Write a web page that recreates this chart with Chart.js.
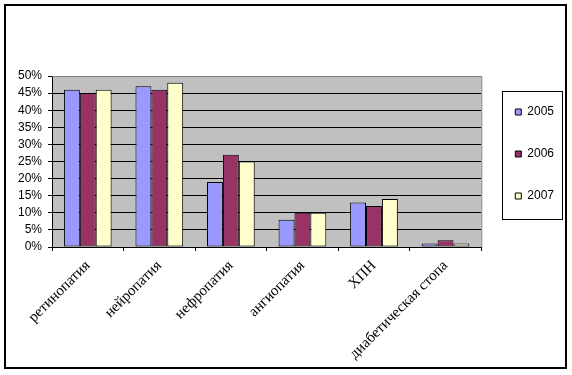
<!DOCTYPE html>
<html>
<head>
<meta charset="utf-8">
<script src="https://cdn.jsdelivr.net/npm/chart.js@4/dist/chart.umd.min.js"></script>
<style>
  body { margin: 0; background: #fff; }
</style>
</head>
<body>
<canvas id="bar" width="572" height="375"></canvas>
<script>
// categories and values
const categories = ["ретинопатия", "нейропатия", "нефропатия", "ангиопатия", "ХПН", "диабетическая стопа"];
const years = ["2005", "2006", "2007"];
const values2005 = [46, 47, 19, 8, 13, 1];
const values2006 = [45, 46, 27, 10, 12, 2];
const values2007 = [46, 48, 25, 10, 14, 1];
const yMax = 50;
const yStep = 5;

const colors = ["#9999FF", "#993366", "#FFFFCC"];

// gray plot area, gray top/right edges, outer frame, legend frame
const framePlugin = {
    id: "frames",
    beforeDraw(chart) {
        const ctx = chart.ctx;
        const a = chart.chartArea;
        ctx.save();
        ctx.fillStyle = "#fff";
        ctx.fillRect(0, 0, chart.width, chart.height);
        ctx.fillStyle = "#C0C0C0";
        ctx.fillRect(a.left, a.top, a.right - a.left, a.bottom - a.top);
        ctx.restore();
    },
    afterDraw(chart) {
        const ctx = chart.ctx;
        const a = chart.chartArea;
        ctx.save();
        ctx.strokeStyle = "#808080";
        ctx.lineWidth = 1;
        ctx.beginPath();
        ctx.moveTo(a.left, a.top + 0.5);
        ctx.lineTo(a.right + 0.5, a.top + 0.5);
        ctx.lineTo(a.right + 0.5, a.bottom);
        ctx.stroke();

        ctx.strokeStyle = "#000";
        ctx.lineWidth = 2;
        ctx.strokeRect(5, 5, 561, 363);

        const boxes = chart.legend.legendHitBoxes;
        if (boxes && boxes.length) {
            const first = boxes[0];
            const last = boxes[boxes.length - 1];
            const left = Math.round(first.left) - 13 + 0.5;
            const top = Math.round(first.top) - 15 + 0.5;
            const bottom = Math.round(last.top + last.height) + 17 + 0.5;
            ctx.lineWidth = 1;
            ctx.strokeRect(left, top, 60, bottom - top);
        }
        ctx.restore();
    }
};

new Chart(document.getElementById("bar"), {
    type: "bar",
    data: {
        labels: categories,
        datasets: [
            { label: years[0], data: values2005 },
            { label: years[1], data: values2006 },
            { label: years[2], data: values2007 }
        ].map((ds, i) => ({
            ...ds,
            backgroundColor: colors[i],
            borderColor: "#000",
            borderWidth: 1,
            borderSkipped: false,
            categoryPercentage: 3 / 4.5,
            barPercentage: 1
        }))
    },
    options: {
        responsive: false,
        devicePixelRatio: 1,
        animation: false,
        layout: {
            padding: { top: 76, left: 0, right: 8, bottom: 0 }
        },
        plugins: {
            tooltip: { enabled: false },
            legend: {
                position: "right",
                align: "start",
                fullSize: false,
                labels: {
                    boxWidth: 6,
                    boxHeight: 6,
                    padding: 30,
                    color: "#000",
                    font: { family: "Arial, 'Liberation Sans'", size: 12, lineHeight: 0.83 }
                }
            }
        },
        scales: {
            x: {
                grid: {
                    offset: true,
                    drawOnChartArea: false,
                    drawTicks: true,
                    tickLength: 4,
                    color: "#000",
                    tickColor: "#000"
                },
                border: { color: "#000", width: 1 },
                ticks: {
                    minRotation: 45,
                    maxRotation: 45,
                    autoSkip: false,
                    padding: 6,
                    color: "#000",
                    font: { family: "'Times New Roman', 'Liberation Serif'", size: 15 }
                },
                afterFit(scale) { scale.height = 128; }
            },
            y: {
                min: 0,
                max: yMax,
                ticks: {
                    stepSize: yStep,
                    autoSkip: false,
                    padding: 6,
                    color: "#000",
                    font: { family: "Arial, 'Liberation Sans'", size: 12, lineHeight: 1 },
                    callback: v => v + "%"
                },
                grid: {
                    color: ctx => (ctx.tick && ctx.tick.value === yMax) ? "#808080" : "#000",
                    tickColor: "#000",
                    tickLength: 4,
                    lineWidth: 1
                },
                border: { color: "#000", width: 1 },
                afterFit(scale) { scale.width = 52; }
            },
            gap: {
                type: "linear",
                position: "right",
                display: true,
                grid: { display: false, drawTicks: false },
                border: { display: false },
                ticks: { display: false },
                afterFit(scale) { scale.width = 4; }
            }
        }
    },
    plugins: [framePlugin]
});
</script>
</body>
</html>
